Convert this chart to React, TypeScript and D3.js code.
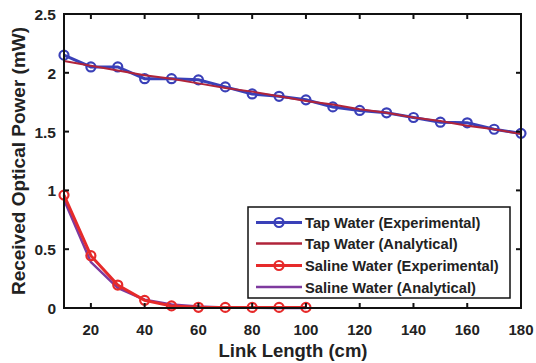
import React from "react";
import * as d3 from "d3";

const tapLengths = [10, 20, 30, 40, 50, 60, 70, 80, 90, 100, 110, 120, 130, 140, 150, 160, 170, 180];
const tapExperimental = [2.15, 2.05, 2.05, 1.95, 1.95, 1.94, 1.88, 1.82, 1.8, 1.77, 1.71, 1.68, 1.66, 1.62, 1.58, 1.575, 1.52, 1.485];
const tapAnalytical = [2.1, 2.06, 2.02, 1.98, 1.95, 1.91, 1.87, 1.84, 1.8, 1.76, 1.73, 1.69, 1.66, 1.62, 1.59, 1.55, 1.52, 1.48];
const salineLengths = [10, 20, 30, 40, 50, 60, 70, 80, 90, 100];
const salineExperimental = [0.96, 0.445, 0.195, 0.065, 0.018, 0.006, 0.005, 0.005, 0.005, 0.005];
const salineAnalytical = [0.92, 0.39, 0.17, 0.07, 0.03, 0.012, 0.005, 0.002, 0.001, 0.0];
const xTicks = [20, 40, 60, 80, 100, 120, 140, 160, 180];
const yTicks = [0, 0.5, 1, 1.5, 2, 2.5];
const yTickLabels = ["0", "0.5", "1", "1.5", "2", "2.5"];
const legendLabels = ["Tap Water (Experimental)", "Tap Water (Analytical)", "Saline Water (Experimental)", "Saline Water (Analytical)"];

const C_BLUE = "#3a40b8";
const C_DARKRED = "#b0243a";
const C_RED = "#e62a2a";
const C_PURPLE = "#7e3a9e";
const TXT = "#222";

export default function App() {
  const W = 536, H = 363;
  const L = 64, T = 14, R = 521, B = 308;
  const x = d3.scaleLinear().domain([10, 180]).range([L, R]);
  const y = d3.scaleLinear().domain([0, 2.5]).range([B, T]);
  const line = (xs: number[], ys: number[]) =>
    d3.line<number>().x((_, i) => x(xs[i])).y((d) => y(d))(ys) || "";

  const font = "Arial, 'Liberation Sans', sans-serif";
  const legendX = 248, legendY = 207, legendW = 262, legendH = 91;
  const legendRows = [222.5, 243.5, 265.5, 287];
  const legendColors = [C_BLUE, C_DARKRED, C_RED, C_PURPLE];
  const legendMarker = [true, false, true, false];

  return (
    <div style={{ position: "fixed", left: 0, top: 0, width: W, height: H, overflow: "hidden" }}>
      <svg width={W} height={H} style={{ display: "block", background: "#fff" }} fontFamily={font}>
        <rect x={0} y={0} width={W} height={H} fill="#fff" />
        {/* series */}
        <path d={line(tapLengths, tapExperimental)} fill="none" stroke={C_BLUE} strokeWidth={3} />
        {tapExperimental.map((v, i) => (
          <circle key={"te" + i} cx={x(tapLengths[i])} cy={y(v)} r={4.5} fill="none" stroke={C_BLUE} strokeWidth={2.2} />
        ))}
        <path d={line(tapLengths, tapAnalytical)} fill="none" stroke={C_DARKRED} strokeWidth={2} />
        <path d={line(salineLengths, salineAnalytical)} fill="none" stroke={C_PURPLE} strokeWidth={2.5} />
        <path d={line(salineLengths, salineExperimental)} fill="none" stroke={C_RED} strokeWidth={3} />
        {salineExperimental.map((v, i) => (
          <circle key={"se" + i} cx={x(salineLengths[i])} cy={y(v)} r={4.5} fill="none" stroke={C_RED} strokeWidth={2.2} />
        ))}

        {/* axes box */}
        <rect x={L} y={T} width={R - L} height={B - T} fill="none" stroke="#111" strokeWidth={2} />
        {xTicks.map((t) => (
          <g key={"xt" + t}>
            <line x1={x(t)} x2={x(t)} y1={B} y2={B - 5} stroke="#111" strokeWidth={2} />
            <line x1={x(t)} x2={x(t)} y1={T} y2={T + 5} stroke="#111" strokeWidth={2} />
            <text x={x(t)} y={B + 27} textAnchor="middle" fontSize={15} fontWeight="bold" fill={TXT}>{t}</text>
          </g>
        ))}
        {yTicks.map((t, i) => (
          <g key={"yt" + t}>
            <line x1={L} x2={L + 5} y1={y(t)} y2={y(t)} stroke="#111" strokeWidth={2} />
            <line x1={R} x2={R - 5} y1={y(t)} y2={y(t)} stroke="#111" strokeWidth={2} />
            <text x={L - 8} y={y(t) + 6} textAnchor="end" fontSize={15.5} fontWeight="bold" fill={TXT}>{yTickLabels[i]}</text>
          </g>
        ))}
        <text x={293} y={357} textAnchor="middle" fontSize={18.5} fontWeight="bold" fill={TXT}>Link Length (cm)</text>
        <text transform={`translate(25,${(T + B) / 2}) rotate(-90)`} textAnchor="middle" fontSize={19} fontWeight="bold" fill={TXT}>Received Optical Power (mW)</text>

        {/* legend */}
        <rect x={legendX} y={legendY} width={legendW} height={legendH} fill="#fff" stroke="#111" strokeWidth={1.5} />
        {legendLabels.map((lab, i) => (
          <g key={"lg" + i}>
            <line x1={256} x2={302} y1={legendRows[i]} y2={legendRows[i]} stroke={legendColors[i]} strokeWidth={legendMarker[i] ? 3 : 2.5} />
            {legendMarker[i] && <circle cx={279} cy={legendRows[i]} r={4.5} fill="none" stroke={legendColors[i]} strokeWidth={2.2} />}
            <text x={305} y={legendRows[i] + 5.5} fontSize={14.7} fontWeight="bold" fill={TXT}>{lab}</text>
          </g>
        ))}
      </svg>
    </div>
  );
}
